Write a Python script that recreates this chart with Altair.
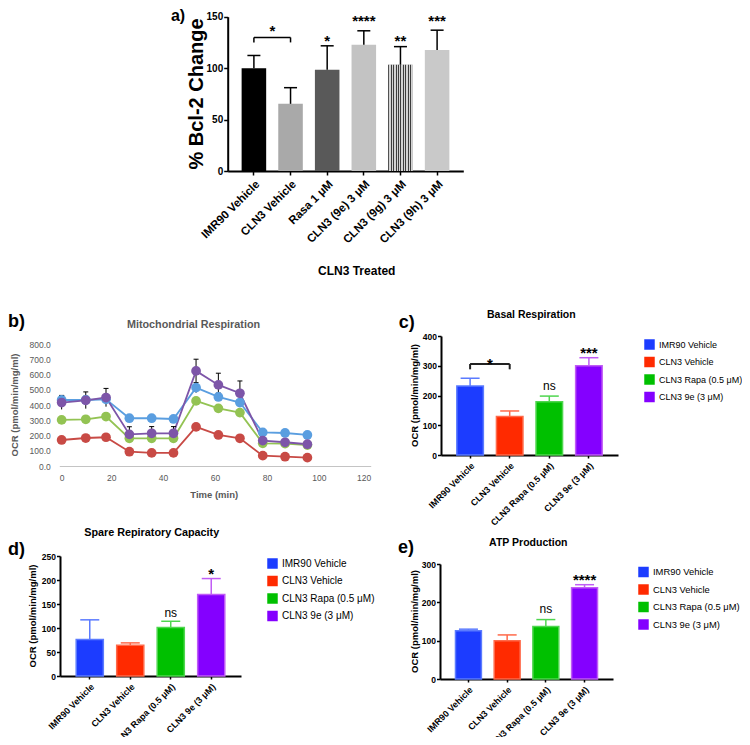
import altair as alt
import pandas as pd

FONT = "Liberation Sans"
W, H = 734, 729

# ---------------- data ----------------
# Panel a) Bcl-2
a_groups = ["IMR90 Vehicle", "CLN3 Vehicle", "Rasa 1 μM", "CLN3 (9e) 3 μM",
            "CLN3 (9g) 3 μM", "CLN3 (9h) 3 μM"]
a_values = [100, 65.3, 98.4, 122.8, 103.3, 117.7]
a_err = [112.3, 81.0, 121.7, 136.3, 120.9, 136.9]
a_sig = ["", "", "*", "****", "**", "***"]
a_sig_y = [None, None, 129.8, 149.0, 129.8, 149.0]
a_bracket = ["IMR90 Vehicle", "CLN3 Vehicle"]
a_bracket_y = [129.8, 125.0]
a_bracket_sig = ["*"]
a_bracket_sig_y = [139.7]

# Panel b) Mitochondrial respiration (time course)
b_series = ["IMR90 Vehicle", "CLN3 Vehicle", "CLN3 Rapa (0.5 μM)", "CLN3 9e (3 μM)"]
b_time = [0.9, 10.2, 18.0, 27.0, 35.6, 44.0, 52.7, 61.3, 69.6, 78.4, 87.0, 95.6]
b_imr90 = [434, 434, 438, 314, 314, 309, 515, 454, 417, 221, 217, 204]
b_cln3 = [171, 184, 189, 94, 86, 86, 257, 204, 182, 68, 61, 55]
b_rapa = [303, 307, 325, 182, 182, 182, 428, 379, 351, 149, 147, 138]
b_9e = [417, 432, 450, 208, 215, 215, 625, 533, 478, 167, 156, 143]
b_imr90_err = [30, 25, 25, 10, 10, 10, 33, 25, 20, 10, 10, 10]
b_9e_err = [45, 55, 60, 50, 44, 44, 77, 77, 81, 15, 15, 15]

# Panels c), d), e)
cde_groups = ["IMR90 Vehicle", "CLN3 Vehicle", "CLN3 Rapa (0.5 μM)", "CLN3 9e (3 μM)"]
c_values = [232, 129, 179, 300]
c_err = [258, 148, 198, 327]
c_sig = ["", "", "ns", "***"]
c_sig_y = [None, None, 228, 353]
c_bracket = ["IMR90 Vehicle", "CLN3 Vehicle"]
c_bracket_y = [306, 288]
c_bracket_sig = ["*"]
c_bracket_sig_y = [319]

d_values = [76, 64, 101, 170]
d_err = [117, 69, 114, 203]
d_sig = ["", "", "ns", "*"]
d_sig_y = [None, None, 129, 219]

e_values = [126, 100, 137, 238]
e_err = [130, 115, 155, 246]
e_sig = ["", "", "ns", "****"]
e_sig_y = [None, None, 180, 267]

panel_labels = ["a)", "b)", "c)", "d)", "e)"]
panel_titles = ["Mitochondrial Respiration", "Basal Respiration",
                "Spare Repiratory Capacity", "ATP Production"]
axis_titles = ["% Bcl-2 Change", "CLN3 Treated", "Time (min)", "OCR (pmol/min/mg/ml)"]

# ---------------- styles ----------------
a_fills = ["#000000", "#a9a9a9", "#595959", "#c3c3c3", "#9e9e9e", "#c9c9c9"]
b_colors = ["#5a9ee0", "#c84a45", "#93c353", "#7d55a8"]
cde_fills = ["#1c3cff", "#ff2a00", "#00c000", "#8400ff"]
cde_strokes = ["#5b7bff", "#ff6a4a", "#4fd64f", "#c05cf5"]
GRAY = "#595959"


def txt(label, x, y, size, weight="bold", color="black", angle=0, align="center"):
    return alt.Chart(pd.DataFrame({"label": [label]})).mark_text(
        font=FONT, fontSize=size, fontWeight=weight, color=color, angle=angle,
        align=align, baseline="middle"
    ).encode(text="label:N", x=alt.value(x), y=alt.value(y))


# ---------------- panel a ----------------
a_df = pd.DataFrame({"group": a_groups, "value": a_values, "err": a_err})
a_xscale = alt.Scale(domain=a_groups, range=[219.7, 455.3], paddingInner=0.33, paddingOuter=0.38)
a_yscale = alt.Scale(domain=[0, 150], range=[163, 8.7], nice=False, zero=False)
a_xaxis = alt.Axis(orient="bottom", offset=163 - H, title=None, labelAngle=-45,
                   labelFont=FONT, labelFontSize=11.5, labelFontWeight="bold",
                   labelColor="black", domainColor="black", domainWidth=2,
                   tickColor="black", tickWidth=1.5, tickSize=4, labelPadding=3,
                   labelOverlap=False, grid=False)
a_yaxis = alt.Axis(orient="left", offset=-219.7, title=None, values=[0, 50, 100, 150],
                   labelFont=FONT, labelFontSize=10, labelFontWeight="bold",
                   labelColor="black", domainColor="black", domainWidth=2,
                   tickColor="black", tickWidth=1.5, tickSize=4, labelPadding=1,
                   grid=False)


def aX(field):
    return alt.X(field, type="nominal", sort=a_groups, scale=a_xscale, axis=a_xaxis)


def aY(field):
    return alt.Y(field, type="quantitative", scale=a_yscale, axis=a_yaxis)


a_bars = alt.Chart(a_df).mark_bar().encode(
    x=aX("group"), y=aY("value"),
    color=alt.Color("group:N", scale=alt.Scale(domain=a_groups, range=a_fills), legend=None))
stops = []
n_str = 10
for i in range(n_str):
    stops += [alt.GradientStop(color="#3c3c3c", offset=i / n_str),
              alt.GradientStop(color="#3c3c3c", offset=(i + 0.4) / n_str),
              alt.GradientStop(color="#d2d2d2", offset=(i + 0.4) / n_str),
              alt.GradientStop(color="#d2d2d2", offset=(i + 1) / n_str)]
a_stripe = alt.Chart(a_df).transform_filter(
    alt.datum.group == "CLN3 (9g) 3 μM"
).mark_bar(color=alt.Gradient(gradient="linear", stops=stops, x1=0, x2=1, y1=0, y2=0)).encode(
    x=aX("group"), y=aY("value"))
a_ev = alt.Chart(a_df).mark_rule(color="black", strokeWidth=1.5).encode(
    x=aX("group"), y=aY("value"), y2="err:Q")
a_cap = alt.Chart(a_df).mark_rule(color="black", strokeWidth=1.5, xOffset=-6.5, x2Offset=6.5).encode(
    x=aX("group"), x2="group:N", y=aY("err"))
a_sig_df = pd.DataFrame({"group": a_groups, "sig": a_sig, "sy": a_sig_y}).dropna()
a_sigs = alt.Chart(a_sig_df).mark_text(font=FONT, fontSize=15, fontWeight="bold", dy=3.5,
                                       baseline="middle").encode(
    x=aX("group"), y=aY("sy"), text="sig:N")
a_br_h = alt.Chart(pd.DataFrame({"g1": [a_bracket[0]], "g2": [a_bracket[1]], "y": [a_bracket_y[0]]})
                   ).mark_rule(color="black", strokeWidth=1.5).encode(
    x=aX("g1"), x2="g2:N", y=aY("y"))
a_br_v = alt.Chart(pd.DataFrame({"group": a_bracket, "y": [a_bracket_y[0]] * 2,
                                 "y2": [a_bracket_y[1]] * 2})
                   ).mark_rule(color="black", strokeWidth=1.5).encode(
    x=aX("group"), y=aY("y"), y2="y2:Q")
a_br_t = alt.Chart(pd.DataFrame({"g": [a_bracket[0]], "sig": a_bracket_sig, "sy": a_bracket_sig_y})
                   ).mark_text(font=FONT, fontSize=15, fontWeight="bold", dy=3.5, baseline="middle",
                               dx=18.5).encode(
    x=aX("g"), y=aY("sy"), text="sig:N")
panel_a = alt.layer(a_bars, a_stripe, a_ev, a_cap, a_sigs, a_br_h, a_br_v, a_br_t)

# ---------------- panel b ----------------
b_vals = {b_series[0]: b_imr90, b_series[1]: b_cln3, b_series[2]: b_rapa, b_series[3]: b_9e}
b_draw = [b_series[1], b_series[2], b_series[0], b_series[3]]
b_rows = []
for s in b_draw:
    for t, v in zip(b_time, b_vals[s]):
        b_rows.append({"series": s, "t": t, "ocr": v})
b_df = pd.DataFrame(b_rows)
b_err_rows = []
for s, errs in [(b_series[0], b_imr90_err), (b_series[3], b_9e_err)]:
    for t, v, e in zip(b_time, b_vals[s], errs):
        b_err_rows.append({"series": s, "t": t, "lo": v - e, "hi": v + e})
b_err_df = pd.DataFrame(b_err_rows)

b_xscale = alt.Scale(domain=[0, 120], range=[51.3, 362.7], nice=False, zero=False)
b_yscale = alt.Scale(domain=[0, 800], range=[458, 336.3], nice=False, zero=False)
b_xaxis = alt.Axis(orient="bottom", offset=458 - H, title=None,
                   values=[0, 20, 40, 60, 80, 100, 120], labelFont=FONT,
                   labelFontSize=8.5, labelColor=GRAY, domainColor="#c4c4c4",
                   domainWidth=1, ticks=False, labelPadding=7, grid=False)
b_yaxis = alt.Axis(orient="left", offset=-51.3, title=None,
                   values=[0, 100, 200, 300, 400, 500, 600, 700, 800], format=".1f",
                   labelFont=FONT, labelFontSize=8.5, labelColor=GRAY,
                   domain=False, ticks=False, labelPadding=9, grid=False)


def bX(field):
    return alt.X(field, type="quantitative", scale=b_xscale, axis=b_xaxis)


def bY(field):
    return alt.Y(field, type="quantitative", scale=b_yscale, axis=b_yaxis)


b_color = alt.Color("series:N", scale=alt.Scale(domain=b_series, range=b_colors), legend=None)
b_ev = alt.Chart(b_err_df).mark_rule(color="black", strokeWidth=1).encode(
    x=bX("t"), y=bY("lo"), y2="hi:Q")
b_cap = alt.Chart(b_err_df).mark_rule(color="black", strokeWidth=1, xOffset=-2.5, x2Offset=2.5).encode(
    x=bX("t"), x2="t:Q", y=bY("hi"))
b_lines = alt.Chart(b_df).mark_line(strokeWidth=1.8).encode(x=bX("t"), y=bY("ocr"), color=b_color)
b_pts = alt.Chart(b_df).mark_circle(size=95, opacity=1).encode(
    x=bX("t"), y=bY("ocr"), color=b_color)
panel_b = alt.layer(b_lines, b_ev, b_cap, b_pts)


# ---------------- panels c, d, e ----------------
def bar_panel(values, errs, sig, sig_y, ymax, ystep, xr, yr, leg_xy, leg_font, bracket=None):
    df = pd.DataFrame({"group": cde_groups, "value": values, "err": errs})
    xscale = alt.Scale(domain=cde_groups, range=xr, paddingInner=0.33, paddingOuter=0.4)
    yscale = alt.Scale(domain=[0, ymax], range=yr, nice=False, zero=False)
    xaxis = alt.Axis(orient="bottom", offset=yr[0] - H, title=None, labelAngle=-45,
                     labelFont=FONT, labelFontSize=9, labelFontWeight="bold",
                     labelColor="black", domainColor="black", domainWidth=2,
                     tickColor="black", tickWidth=1.5, tickSize=3, labelPadding=3,
                     labelOverlap=False, grid=False)
    yaxis = alt.Axis(orient="left", offset=-xr[0], title=None,
                     values=list(range(0, ymax + 1, ystep)),
                     labelFont=FONT, labelFontSize=8.5, labelFontWeight="bold",
                     labelColor="black", domainColor="black", domainWidth=2,
                     tickColor="black", tickWidth=1.5, tickSize=3.5, labelPadding=1,
                     grid=False)

    def gX(field):
        return alt.X(field, type="nominal", sort=cde_groups, scale=xscale, axis=xaxis)

    def gY(field):
        return alt.Y(field, type="quantitative", scale=yscale, axis=yaxis)

    stroke = alt.Stroke("group:N", scale=alt.Scale(domain=cde_groups, range=cde_strokes), legend=None)
    bars = alt.Chart(df).mark_bar(strokeWidth=1.5).encode(
        x=gX("group"), y=gY("value"), stroke=stroke,
        color=alt.Color("group:N", scale=alt.Scale(domain=cde_groups, range=cde_fills),
                        legend=alt.Legend(orient="none", legendX=leg_xy[0], legendY=leg_xy[1],
                                          title=None, direction="vertical", symbolType="square",
                                          symbolSize=110, symbolStrokeWidth=0, labelFont=FONT,
                                          labelFontSize=leg_font, labelColor="black",
                                          rowPadding=6.5, labelOffset=4, labelLimit=0)))
    ev = alt.Chart(df).mark_rule(strokeWidth=1.5).encode(
        x=gX("group"), y=gY("value"), y2="err:Q", stroke=stroke)
    cap = alt.Chart(df).mark_rule(strokeWidth=1.5, xOffset=-9.5, x2Offset=9.5).encode(
        x=gX("group"), x2="group:N", y=gY("err"), stroke=stroke)
    sdf = pd.DataFrame({"group": cde_groups, "sig": sig, "sy": sig_y}).dropna()
    stars = alt.Chart(sdf[sdf.sig != "ns"]).mark_text(
        font=FONT, fontSize=15, fontWeight="bold", dy=3.5, baseline="middle").encode(
        x=gX("group"), y=gY("sy"), text="sig:N")
    ns = alt.Chart(sdf[sdf.sig == "ns"]).mark_text(
        font=FONT, fontSize=12, dy=-1, baseline="middle").encode(
        x=gX("group"), y=gY("sy"), text="sig:N")
    layers = [bars, ev, cap, stars, ns]
    if bracket is not None:
        groups, ys, bsig, bsy = bracket
        h = alt.Chart(pd.DataFrame({"g1": [groups[0]], "g2": [groups[1]], "y": [ys[0]]})
                      ).mark_rule(color="#222222", strokeWidth=2).encode(
            x=gX("g1"), x2="g2:N", y=gY("y"))
        v = alt.Chart(pd.DataFrame({"group": groups, "y": [ys[0]] * 2, "y2": [ys[1]] * 2})
                      ).mark_rule(color="#222222", strokeWidth=2).encode(
            x=gX("group"), y=gY("y"), y2="y2:Q")
        step = (xr[1] - xr[0]) / (4 - 0.33 + 0.8)
        t = alt.Chart(pd.DataFrame({"g": [groups[0]], "sig": bsig, "sy": bsy})).mark_text(
            font=FONT, fontSize=15, fontWeight="bold", dy=3.5, dx=step / 2, baseline="middle").encode(
            x=gX("g"), y=gY("sy"), text="sig:N")
        layers += [h, v, t]
    return alt.layer(*layers)


panel_c = bar_panel(c_values, c_err, c_sig, c_sig_y, 400, 100, [433, 610], [447, 328], (636, 331), 9.0,
                    bracket=(c_bracket, c_bracket_y, c_bracket_sig, c_bracket_sig_y))
panel_d = bar_panel(d_values, d_err, d_sig, d_sig_y, 250, 50, [52, 233], [668, 548], (259, 550), 10)
panel_e = bar_panel(e_values, e_err, e_sig, e_sig_y, 300, 100, [432, 605], [671, 556], (630, 558.5), 9.4)

# ---------------- text annotations ----------------
annots = alt.layer(
    txt(panel_labels[0], 170, 7.5, 16),
    txt(panel_labels[1], 0, 314, 18, align="left"),
    txt(panel_labels[2], 398.7, 315, 18),
    txt(panel_labels[3], 0, 542, 18, align="left"),
    txt(panel_labels[4], 398, 540, 18),
    txt(panel_titles[0], 185.5, 317, 10.8, color=GRAY),
    txt(panel_titles[1], 523.3, 307, 10.5),
    txt(panel_titles[2], 143.7, 525.3, 10.8),
    txt(panel_titles[3], 520.3, 535.3, 10.5),
    txt(axis_titles[0], 188.7, 86, 20, angle=270),
    txt(axis_titles[1], 348.7, 263, 12),
    txt(axis_titles[2], 206.2, 487, 9.5, color=GRAY),
    txt(axis_titles[3], 7, 397, 9.5, color=GRAY, angle=270),
    txt(axis_titles[3], 407, 387.5, 9.5, angle=270),
    txt(axis_titles[3], 25.3, 608, 9.5, angle=270),
    txt(axis_titles[3], 407, 613.5, 9.5, angle=270),
)

chart = alt.layer(panel_a, panel_b, panel_c, panel_d, panel_e, annots).resolve_scale(
    x="independent", y="independent", color="independent", stroke="independent"
).properties(
    width=W, height=H, autosize=alt.AutoSizeParams(type="none"), padding=0, background="white"
).configure_view(stroke=None, strokeWidth=0)

chart.save("out.html", embed_options={"renderer": "svg", "actions": False})
